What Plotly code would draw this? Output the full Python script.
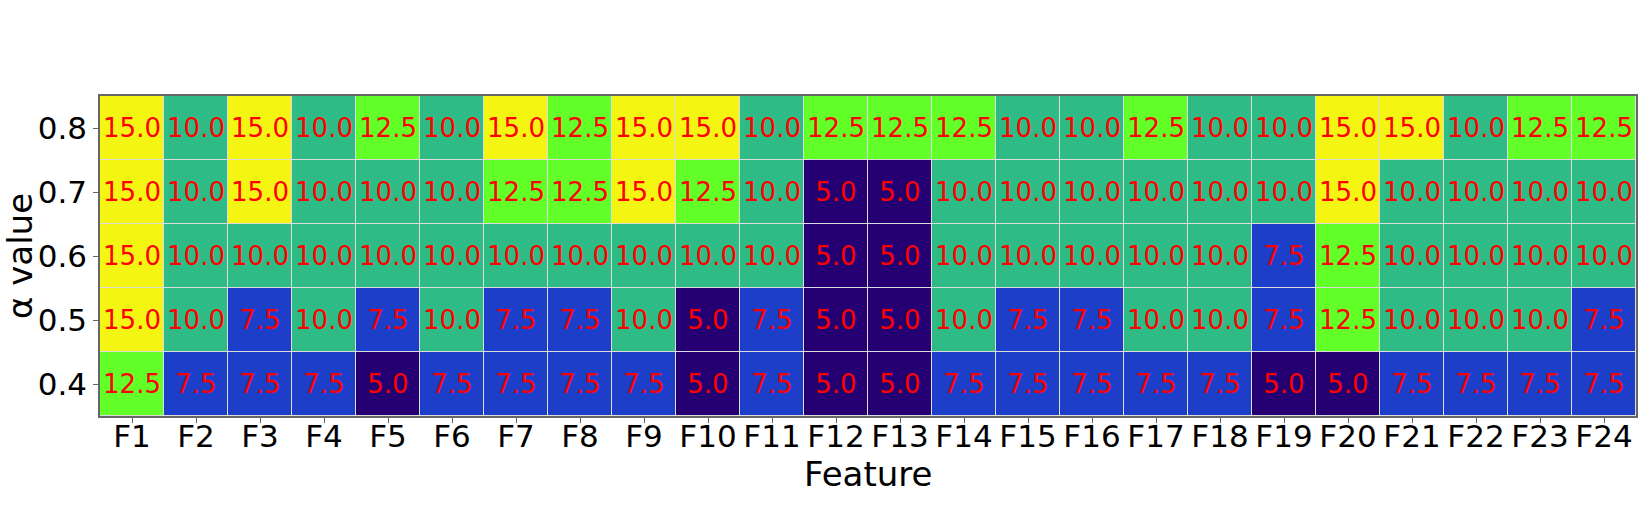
import plotly.graph_objects as go

features = [f"F{i}" for i in range(1, 25)]
alphas = ["0.4", "0.5", "0.6", "0.7", "0.8"]

row_04 = [12.5, 7.5, 7.5, 7.5, 5.0, 7.5, 7.5, 7.5, 7.5, 5.0, 7.5, 5.0, 5.0, 7.5, 7.5, 7.5, 7.5, 7.5, 5.0, 5.0, 7.5, 7.5, 7.5, 7.5]
row_05 = [15.0, 10.0, 7.5, 10.0, 7.5, 10.0, 7.5, 7.5, 10.0, 5.0, 7.5, 5.0, 5.0, 10.0, 7.5, 7.5, 10.0, 10.0, 7.5, 12.5, 10.0, 10.0, 10.0, 7.5]
row_06 = [15.0, 10.0, 10.0, 10.0, 10.0, 10.0, 10.0, 10.0, 10.0, 10.0, 10.0, 5.0, 5.0, 10.0, 10.0, 10.0, 10.0, 10.0, 7.5, 12.5, 10.0, 10.0, 10.0, 10.0]
row_07 = [15.0, 10.0, 15.0, 10.0, 10.0, 10.0, 12.5, 12.5, 15.0, 12.5, 10.0, 5.0, 5.0, 10.0, 10.0, 10.0, 10.0, 10.0, 10.0, 15.0, 10.0, 10.0, 10.0, 10.0]
row_08 = [15.0, 10.0, 15.0, 10.0, 12.5, 10.0, 15.0, 12.5, 15.0, 15.0, 10.0, 12.5, 12.5, 12.5, 10.0, 10.0, 12.5, 10.0, 10.0, 15.0, 15.0, 10.0, 12.5, 12.5]

z = [row_04, row_05, row_06, row_07, row_08]

c_dark = "#240072"
c_blue = "#1d3ec8"
c_green = "#2fbb85"
c_lime = "#62ff28"
c_yellow = "#f5f514"
colorscale = [
    [0.0, c_dark], [0.125, c_dark],
    [0.125, c_blue], [0.375, c_blue],
    [0.375, c_green], [0.625, c_green],
    [0.625, c_lime], [0.875, c_lime],
    [0.875, c_yellow], [1.0, c_yellow],
]

fig = go.Figure(go.Heatmap(
    z=z, x=features, y=alphas,
    zmin=5, zmax=15, colorscale=colorscale, showscale=False,
    xgap=1, ygap=1,
    texttemplate="%{z:.1f}",
    textfont=dict(color="red", size=26, family="DejaVu Sans"),
    hoverinfo="skip",
))

axis_common = dict(
    showline=True, mirror=True, linecolor="#666666", linewidth=1.5,
    ticks="outside", ticklen=5, tickcolor="#666666",
    tickfont=dict(size=31, color="black", family="DejaVu Sans"),
    showgrid=False, zeroline=False,
)

fig.update_layout(
    width=1644, height=514,
    margin=dict(l=100, r=8, t=96, b=98),
    paper_bgcolor="white", plot_bgcolor="#dddddd",
    font=dict(family="DejaVu Sans", color="black"),
    xaxis=dict(**axis_common, ticklabelstandoff=-13),
    yaxis=dict(**axis_common, title=dict(text="α value", font=dict(size=34), standoff=7)),
)
fig.update_xaxes(automargin=False)
fig.update_yaxes(automargin=False)

fig.add_annotation(
    text="Feature", xref="paper", yref="paper", x=0.5, y=(416 - 474) / 320,
    xanchor="center", yanchor="middle", showarrow=False,
    font=dict(size=34, color="black", family="DejaVu Sans"),
)

fig.write_html(
    "out.html",
    config={"displayModeBar": False},
    post_script="document.body.style.margin='0';document.body.style.padding='0';",
)
